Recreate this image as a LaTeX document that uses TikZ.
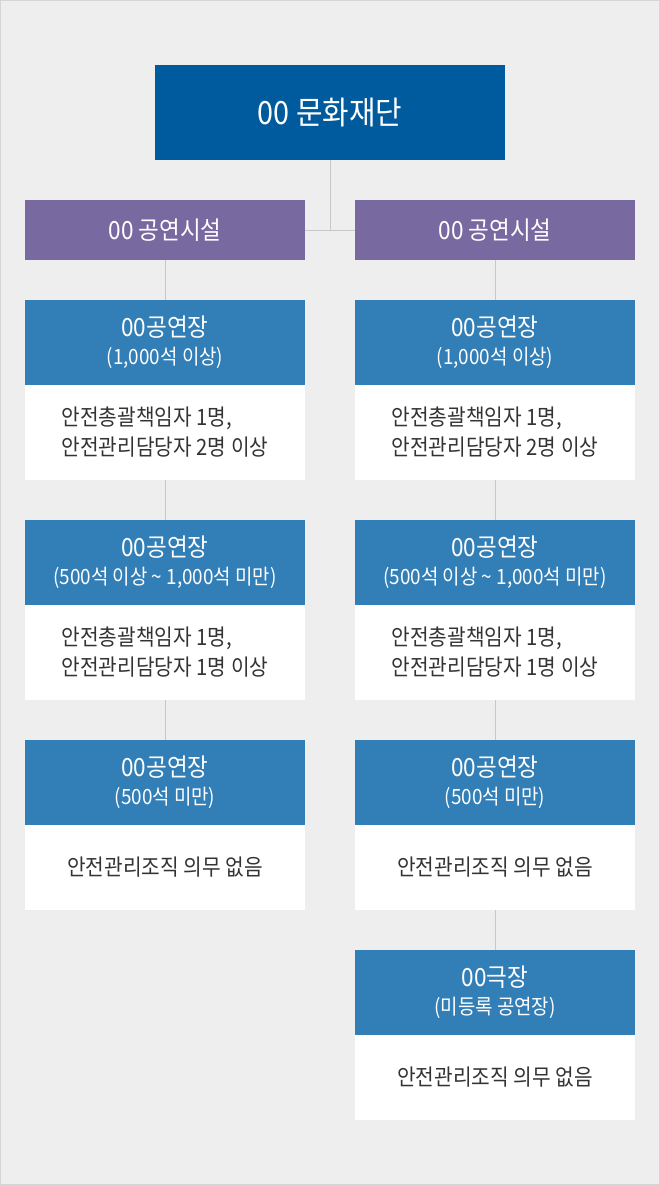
\documentclass[tikz,border=0pt]{standalone}
\usepackage{fontspec}
\setmainfont{Noto Sans CJK KR}[FakeStretch=0.9]
\usepackage{xcolor}
\usepackage{tikz}

\definecolor{foundblue}{RGB}{0,90,158}
\definecolor{facpurple}{RGB}{120,105,160}
\definecolor{hallblue}{RGB}{50,126,182}
\definecolor{bggray}{RGB}{238,238,238}
\definecolor{edgegray}{RGB}{214,214,214}
\definecolor{linkgray}{RGB}{200,200,200}
\definecolor{dutytext}{RGB}{51,51,51}

\newcommand{\hallsub}{\fontsize{21pt}{24pt}\selectfont}

\tikzset{
  foundbox/.style={fill=foundblue, text=white, inner sep=0pt,
    minimum width=350pt, minimum height=95pt, font=\fontsize{32pt}{36pt}\selectfont},
  facbox/.style={fill=facpurple, text=white, inner sep=0pt,
    minimum width=280pt, minimum height=60pt, font=\fontsize{25pt}{28pt}\selectfont},
  hallbox/.style={fill=hallblue, text=white, inner sep=0pt, align=center,
    minimum width=280pt, minimum height=85pt, font=\fontsize{25pt}{28pt}\selectfont},
  dutybox/.style={fill=white, text=dutytext, inner sep=0pt, align=left,
    minimum width=280pt, minimum height=95pt, font=\fontsize{22.5pt}{30pt}\selectfont},
  nodutybox/.style={dutybox, minimum height=85pt},
  link/.style={draw=linkgray, line width=1pt}
}

\begin{document}
\begin{tikzpicture}[x=1pt, y=-1pt]
    \useasboundingbox (0, 0) rectangle (660, 1185);
    \fill[bggray] (0, 0) rectangle (660, 1185);
    \draw[edgegray, line width=1pt] (0.5, 0.5) rectangle (659.5, 1184.5);

    \node[foundbox] (found) at (330, 112.5) {00 문화재단};

    \node[facbox] (facL) at (165, 230) {00 공연시설};
    \node[facbox] (facR) at (495, 230) {00 공연시설};

    \node[hallbox] (hallL1) at (165, 342.5) {00공연장\\{\hallsub (1,000석 이상)}};
    \node[dutybox] (dutyL1) at (165, 432.5) {안전총괄책임자 1명,\\안전관리담당자 2명 이상};
    \node[hallbox] (hallL2) at (165, 562.5) {00공연장\\{\hallsub (500석 이상 \textasciitilde{} 1,000석 미만)}};
    \node[dutybox] (dutyL2) at (165, 652.5) {안전총괄책임자 1명,\\안전관리담당자 1명 이상};
    \node[hallbox] (hallL3) at (165, 782.5) {00공연장\\{\hallsub (500석 미만)}};
    \node[nodutybox] (dutyL3) at (165, 867.5) {안전관리조직 의무 없음};

    \node[hallbox] (hallR1) at (495, 342.5) {00공연장\\{\hallsub (1,000석 이상)}};
    \node[dutybox] (dutyR1) at (495, 432.5) {안전총괄책임자 1명,\\안전관리담당자 2명 이상};
    \node[hallbox] (hallR2) at (495, 562.5) {00공연장\\{\hallsub (500석 이상 \textasciitilde{} 1,000석 미만)}};
    \node[dutybox] (dutyR2) at (495, 652.5) {안전총괄책임자 1명,\\안전관리담당자 1명 이상};
    \node[hallbox] (hallR3) at (495, 782.5) {00공연장\\{\hallsub (500석 미만)}};
    \node[nodutybox] (dutyR3) at (495, 867.5) {안전관리조직 의무 없음};
    \node[hallbox] (hallR4) at (495, 992.5) {00극장\\{\hallsub (미등록 공연장)}};
    \node[nodutybox] (dutyR4) at (495, 1077.5) {안전관리조직 의무 없음};

    \draw[link] (found.south) -- (found.south |- facL.east);
    \draw[link] (facL.east) -- (facR.west);

    \draw[link] (facL.south) -- (hallL1.north);
    \draw[link] (dutyL1.south) -- (hallL2.north);
    \draw[link] (dutyL2.south) -- (hallL3.north);

    \draw[link] (facR.south) -- (hallR1.north);
    \draw[link] (dutyR1.south) -- (hallR2.north);
    \draw[link] (dutyR2.south) -- (hallR3.north);
    \draw[link] (dutyR3.south) -- (hallR4.north);
\end{tikzpicture}
\end{document}
